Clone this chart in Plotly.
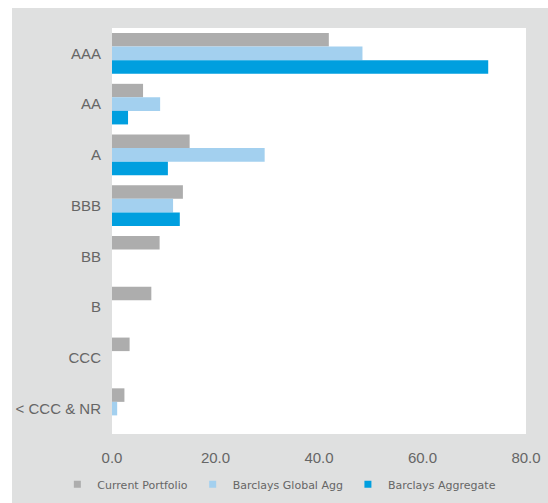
import plotly.graph_objects as go

categories = ["AAA", "AA", "A", "BBB", "BB", "B", "CCC", "< CCC & NR"]
current_portfolio = [41.9, 6.0, 15.0, 13.7, 9.2, 7.6, 3.4, 2.4]
barclays_global_agg = [48.4, 9.3, 29.5, 11.8, None, None, None, 1.0]
barclays_aggregate = [72.7, 3.1, 10.8, 13.1, None, None, None, None]
x_ticks = [0, 20, 40, 60, 80]

series = [
    ("Current Portfolio", current_portfolio, "#adadad"),
    ("Barclays Global Agg", barclays_global_agg, "#a3d0ef"),
    ("Barclays Aggregate", barclays_aggregate, "#009fdf"),
]

fig = go.Figure()
for name, vals, color in series:
    fig.add_trace(go.Bar(
        y=categories, x=vals, name=name, orientation="h",
        marker=dict(color=color, line=dict(width=0)),
        legendgroup=name, showlegend=False,
    ))
# legend entries with small square swatches
for name, vals, color in series:
    fig.add_trace(go.Scatter(
        x=[None], y=[None], mode="markers", name=name, legendgroup=name,
        marker=dict(symbol="square", size=7, color=color), showlegend=True,
    ))

font_color = "#666666"
fig.update_layout(
    width=548, height=503,
    margin=dict(l=112, r=22, t=28, b=69, pad=0, autoexpand=False),
    paper_bgcolor="white",
    plot_bgcolor="white",
    barmode="group",
    bargap=0.2,
    bargroupgap=0,
    font=dict(family="Liberation Sans, Arial, sans-serif", color=font_color, size=15),
    xaxis=dict(range=[0, 80], tickvals=x_ticks, tickformat=".1f",
               showgrid=False, zeroline=False, showline=False, ticks="",
               ticklabelstandoff=13, tickfont=dict(size=15, color=font_color)),
    yaxis=dict(autorange="reversed", showgrid=False, zeroline=False, showline=False,
               ticks="", ticklabelstandoff=10, tickfont=dict(size=15, color=font_color)),
    legend=dict(orientation="h", x=-0.132, xanchor="left", y=-0.088, yanchor="top",
                font=dict(size=11, color=font_color, family="DejaVu Sans, sans-serif"),
                itemwidth=30, bgcolor="rgba(0,0,0,0)"),
    shapes=[
        dict(type="rect", xref="paper", yref="paper",
             x0=-0.2415, x1=1.06, y0=-0.18, y1=1.049,
             fillcolor="#dfe0e0", line=dict(width=0), layer="below"),
        dict(type="rect", xref="paper", yref="paper",
             x0=0, x1=1, y0=0, y1=1,
             fillcolor="white", line=dict(width=0), layer="below"),
    ],
)

fig.write_html("out.html")
